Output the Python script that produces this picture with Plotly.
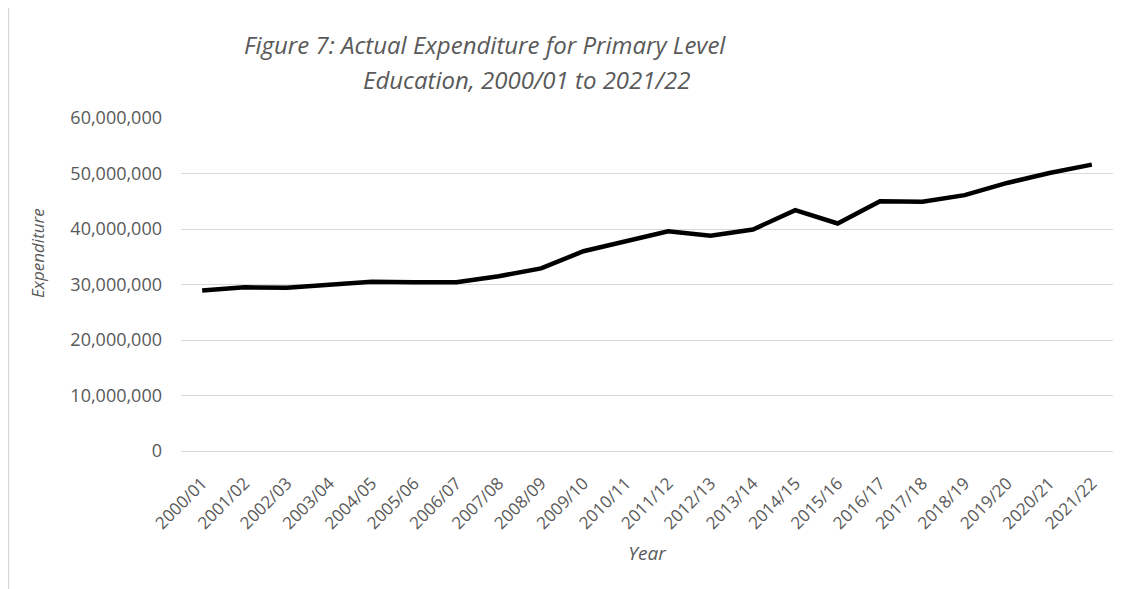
import plotly.graph_objects as go

years = ["2000/01", "2001/02", "2002/03", "2003/04", "2004/05", "2005/06", "2006/07",
         "2007/08", "2008/09", "2009/10", "2010/11", "2011/12", "2012/13", "2013/14",
         "2014/15", "2015/16", "2016/17", "2017/18", "2018/19", "2019/20", "2020/21",
         "2021/22"]
expenditure = [28900000, 29500000, 29400000, 30000000, 30500000, 30400000, 30400000,
               31500000, 32900000, 36000000, 37800000, 39600000, 38800000, 39900000,
               43400000, 41000000, 45000000, 44900000, 46100000, 48300000, 50100000,
               51600000]
y_ticks = [0, 10000000, 20000000, 30000000, 40000000, 50000000, 60000000]
y_tick_labels = ["0", "10,000,000", "20,000,000", "30,000,000", "40,000,000",
                 "50,000,000", "60,000,000"]

FONT = "Open Sans"
GREY = "#595959"

# The page body has an 8px margin, so the figure is sized to fit the window.
fig = go.Figure()
fig.add_trace(go.Scatter(
    x=years, y=expenditure, mode="lines",
    line=dict(color="black", width=4.5),
    hoverinfo="x+y", showlegend=False,
))

PL, PT, PW, PH = 173, 110, 932, 333  # plot area in figure pixels


def px(xw):
    return (xw - 8 - PL) / PW


def py(yw):
    return (PT + PH - (yw - 8)) / PH


fig.update_layout(
    width=1122, height=581,
    margin=dict(l=PL, r=1122 - PL - PW, t=PT, b=581 - PT - PH),
    paper_bgcolor="white", plot_bgcolor="white",
    font=dict(family=FONT, color=GREY, size=18),
    xaxis=dict(
        type="category", range=[-0.5, 21.5],
        tickangle=-45, showgrid=False, zeroline=False,
        showline=False, ticks="", ticklabelstandoff=18,
        tickfont=dict(size=17, color=GREY, family=FONT),
        title=dict(text="<i>Year</i>", font=dict(size=19, color=GREY, family=FONT),
                   standoff=14),
    ),
    yaxis=dict(
        range=[0, 60000000], tickvals=y_ticks, ticktext=y_tick_labels,
        showgrid=True, gridcolor="#d9d9d9", gridwidth=1,
        zeroline=True, zerolinecolor="#d9d9d9", zerolinewidth=1,
        showline=False, ticks="", ticklabelstandoff=18,
        tickfont=dict(size=18, color=GREY, family=FONT),
    ),
    shapes=[dict(type="line", xref="paper", yref="paper",
                 x0=px(8.5), x1=px(8.5), y0=py(0), y1=py(600),
                 line=dict(color="#d9d9d9", width=1.5), layer="below")],
    annotations=[
        dict(text="<i>Figure 7: Actual Expenditure for Primary Level</i>",
             xref="paper", yref="paper", x=px(242), y=py(45),
             xanchor="left", yanchor="middle", showarrow=False,
             font=dict(size=24, color=GREY, family=FONT)),
        dict(text="<i>Education, 2000/01 to 2021/22</i>",
             xref="paper", yref="paper", x=px(361), y=py(79),
             xanchor="left", yanchor="middle", showarrow=False,
             font=dict(size=24, color=GREY, family=FONT)),
        dict(text="<i>Expenditure</i>", textangle=-90,
             xref="paper", yref="paper", x=px(37), y=py(253),
             xanchor="center", yanchor="middle", showarrow=False,
             font=dict(size=17, color=GREY, family=FONT)),
    ],
)

fig.write_html("out.html")
